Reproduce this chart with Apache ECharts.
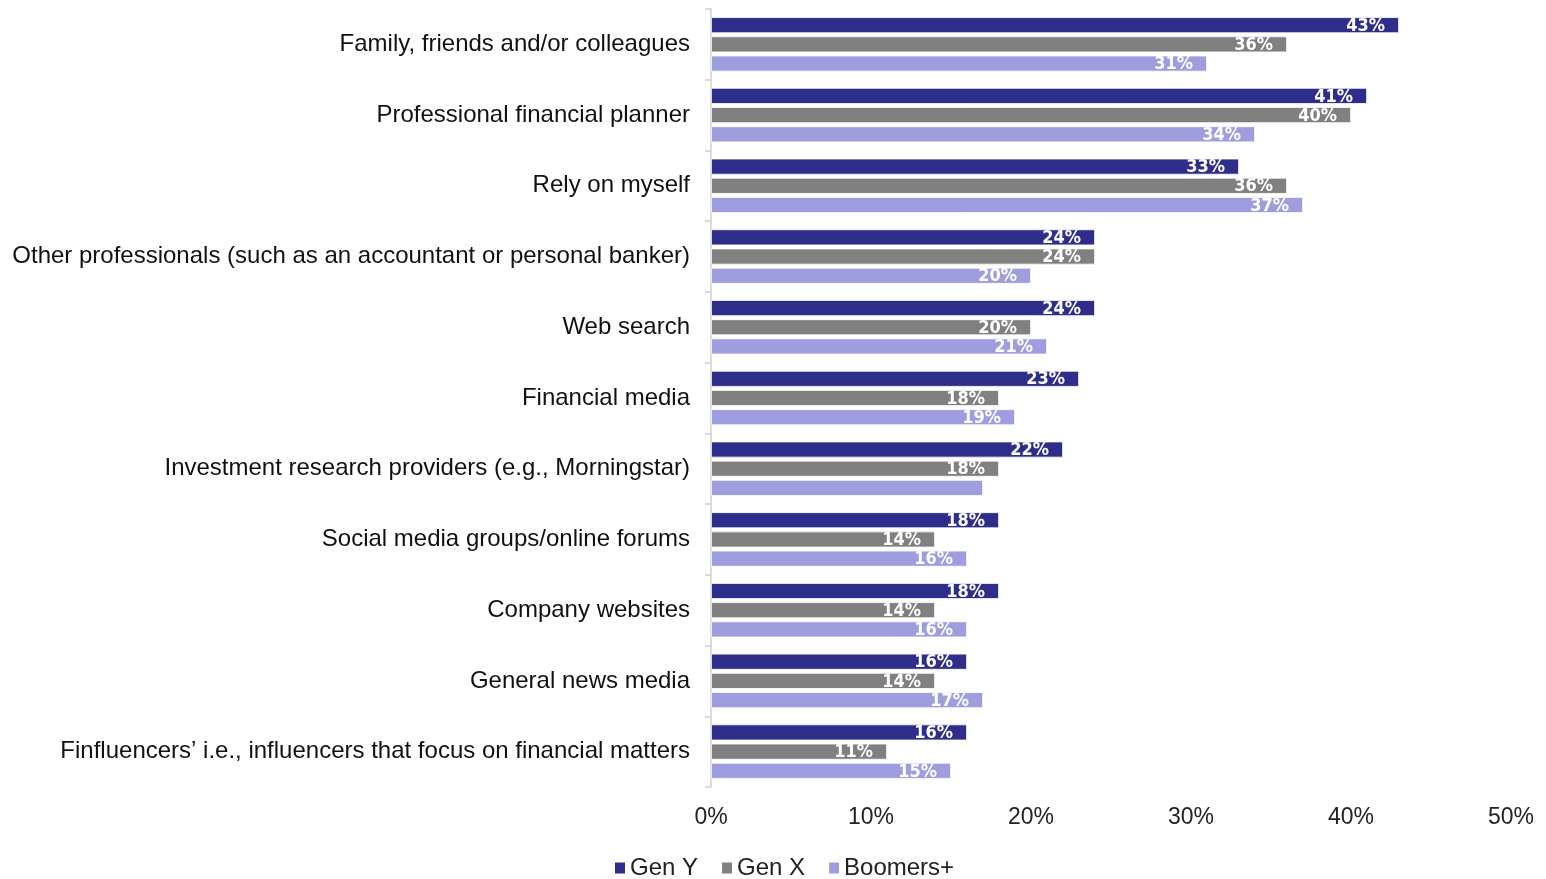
<!DOCTYPE html>
<html>
<head>
<meta charset="utf-8">
<script src="https://cdn.jsdelivr.net/npm/echarts@6/dist/echarts.min.js"></script>
<style>
  html, body { margin: 0; padding: 0; background: #fff; }
  #chart { width: 1546px; height: 879px; }
</style>
</head>
<body>
<div id="chart"></div>
<script>
// Sources of financial information, by generation (% of respondents)
const categories = [
  'Family, friends and/or colleagues',
  'Professional financial planner',
  'Rely on myself',
  'Other professionals (such as an accountant or personal banker)',
  'Web search',
  'Financial media',
  'Investment research providers (e.g., Morningstar)',
  'Social media groups/online forums',
  'Company websites',
  'General news media',
  'Finfluencers\u2019 i.e., influencers that focus on financial matters'
];
const genY     = [43, 41, 33, 24, 24, 23, 22, 18, 18, 16, 16];
const genX     = [36, 40, 36, 24, 20, 18, 18, 14, 14, 14, 11];
const boomers  = [31, 34, 37, 20, 21, 19, 17, 16, 16, 17, 15];
// values whose label is not shown on the bar
const boomersHiddenLabels = [6];
const xTicks = [0, 10, 20, 30, 40, 50];

const FONT = '"Liberation Sans", Arial, sans-serif';
const NARROW = '"Liberation Sans Narrow", "Arial Narrow", "DejaVu Sans Condensed", sans-serif';

const barLabel = {
  show: true,
  position: 'insideRight',
  distance: 14,
  offset: [0, 1],
  color: '#fff',
  fontFamily: NARROW,
  fontWeight: 'bold',
  fontSize: 18,
  formatter: p => p.value + '%'
};

function makeSeries(name, values, color, hidden) {
  return {
    name: name,
    type: 'bar',
    barWidth: 16,
    barGap: '20%',
    itemStyle: { color: color, borderColor: '#fff', borderWidth: 0.8 },
    label: barLabel,
    data: values.map((v, i) => hidden && hidden.includes(i)
      ? { value: v, label: { show: false } }
      : v)
  };
}

const chart = echarts.init(document.getElementById('chart'));
chart.setOption({
  animation: false,
  grid: { left: 711, right: 35, top: 9, bottom: 92, containLabel: false },
  legend: {
    left: 608,
    top: 851,
    icon: 'rect',
    itemWidth: 12,
    itemHeight: 13,
    itemGap: 22,
    textStyle: { fontFamily: FONT, fontSize: 24, color: '#222', padding: [0, 0, 0, -1] },
    data: ['Gen Y', 'Gen X', 'Boomers+']
  },
  xAxis: {
    type: 'value',
    min: xTicks[0],
    max: xTicks[xTicks.length - 1],
    interval: 10,
    axisLine: { show: false },
    axisTick: { show: false },
    splitLine: { show: false },
    axisLabel: {
      margin: 19,
      fontFamily: FONT,
      fontSize: 23,
      color: '#222',
      formatter: v => v + '%'
    }
  },
  yAxis: {
    type: 'category',
    inverse: true,
    data: categories,
    axisLine: { show: true, lineStyle: { color: '#d0d0d0', width: 1.5 } },
    axisTick: { show: true, length: 6, lineStyle: { color: '#d0d0d0', width: 1.5 } },
    axisLabel: {
      margin: 21,
      fontFamily: FONT,
      fontSize: 24,
      color: '#111'
    }
  },
  series: [
    makeSeries('Gen Y', genY, '#2e2e8a'),
    makeSeries('Gen X', genX, '#808080'),
    makeSeries('Boomers+', boomers, '#9e9ede', boomersHiddenLabels)
  ]
});
</script>
</body>
</html>
